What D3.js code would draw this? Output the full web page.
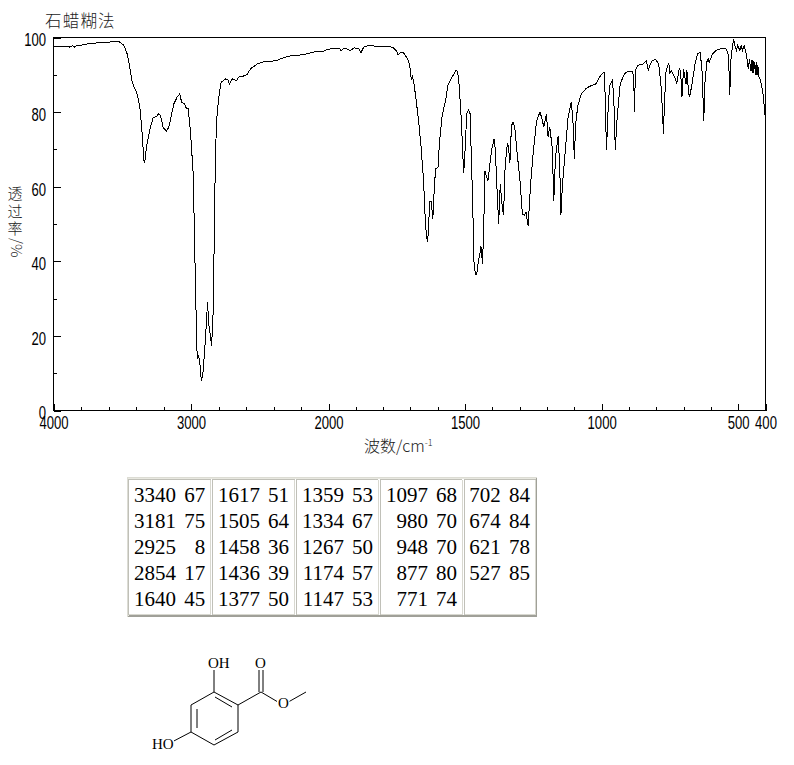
<!DOCTYPE html>
<html><head><meta charset="utf-8">
<script src="https://cdn.jsdelivr.net/npm/d3@7/dist/d3.min.js"></script>
<style>
html,body{margin:0;padding:0;background:#fff}
svg{display:block}
.tick-label{font-family:"Liberation Sans",sans-serif;font-size:19px;fill:#000}
.cjk{font-family:"Noto Sans CJK SC",sans-serif;fill:#222;font-weight:300}
.peak{font-family:"Liberation Serif",serif;font-size:21px;fill:#000}
.atom{font-family:"Liberation Serif",serif;font-size:15px;fill:#000}
</style></head><body>
<script>
const wavenumber=[3998,3985,3901,3880,3860,3845,3828,3800,3743,3658,3610,3561,3525,3488,3464,3452,3428,3392,3372,3355,3343,3336,3324,3295,3275,3251,3234,3222,3202,3178,3161,3125,3101,3081,3069,3047,3033,3021,3004,2984,2975,2967,2955,2948,2938,2924,2914,2902,2887,2880,2870,2858,2851,2841,2834,2822,2810,2798,2781,2749,2732,2720,2701,2669,2652,2628,2592,2567,2519,2470,2373,2349,2276,2179,2107,2070,2046,1999,1974,1959,1954,1944,1932,1922,1905,1889,1881,1871,1856,1828,1810,1780,1762,1752,1745,1735,1725,1707,1701,1697,1693,1689,1682,1670,1661,1652,1646,1642,1638,1634,1630,1624,1618,1613,1608,1599,1594,1584,1570,1563,1552,1540,1533,1527,1521,1513,1509,1505,1500,1494,1488,1482,1477,1472,1467,1462,1457,1451,1445,1442,1436,1432,1427,1421,1416,1409,1403,1394,1389,1384,1377,1371,1365,1359,1353,1345,1341,1336,1330,1324,1318,1309,1299,1290,1283,1277,1269,1260,1251,1238,1226,1218,1212,1202,1196,1190,1181,1175,1169,1159,1153,1149,1144,1135,1123,1111,1105,1100,1095,1087,1074,1056,1038,1020,1008,995,989,986,982,977,971,961,956,950,943,932,916,904,886,882,880,876,868,849,837,834,829,823,815,803,791,782,776,774,770,764,754,750,745,730,725,716,711,706,700,691,688,681,677,667,658,649,640,633,628,626,622,615,610,606,594,582,563,545,537,533,531,526,517,511,506,502,494,489,484,478,472,466,463,458,455,452,449,446,443,440,437,434,431,428,424,418,411,406,404];
const transmittance=[97.6,97.7,97.7,97.4,97.8,97.4,97.9,97.9,98.4,98.6,98.6,99.0,98.9,97.9,95.6,93.4,88.0,84.9,81.3,74.2,67.0,66.6,70.6,76.0,78.5,78.8,79.6,79.1,75.8,74.9,76.0,82.2,84.0,84.9,82.7,82.2,80.9,80.9,75.0,63.4,47.4,32.2,13.8,14.7,13.6,7.8,9.8,15.2,24.1,29.0,22.8,19.7,17.4,23.2,38.4,69.7,79.6,84.0,88.0,88.9,88.6,87.6,88.9,88.5,89.4,89.5,90.1,91.6,92.9,93.5,93.8,94.3,95.1,95.4,96.1,96.3,96.2,96.9,97.0,97.0,96.5,97.1,96.9,96.5,97.2,97.0,96.0,97.4,97.8,97.7,97.6,97.7,97.2,96.5,95.3,96.1,95.9,93.8,91.6,88.7,89.6,88.5,84.9,77.7,70.6,61.7,51.8,47.4,45.1,47.8,55.9,56.0,51.4,59.0,64.8,65.2,71.5,79.1,83.6,87.1,88.9,90.3,91.3,90.7,86.7,76.9,69.7,63.6,69.7,79.5,80.6,80.0,67.9,55.4,39.3,36.5,36.6,40.2,42.4,44.2,39.3,48.3,64.3,62.6,61.7,66.1,69.7,72.8,69.7,60.8,50.0,60.8,55.4,52.3,66.1,71.5,71.0,66.3,76.4,77.3,76.0,68.8,61.7,52.7,52.3,53.2,49.4,60.8,68.8,77.7,80.0,78.2,76.0,79.5,73.3,76.0,70.6,56.3,67.9,73.7,64.3,52.5,59.9,67.9,78.6,82.7,77.7,67.5,76.9,81.8,84.9,86.4,87.1,87.6,89.4,90.5,90.5,79.5,69.9,79.5,87.1,88.5,84.9,69.9,78.6,87.6,90.3,90.9,90.9,88.0,80.0,91.2,92.5,92.9,93.7,92.9,91.3,92.5,93.7,94.1,92.9,86.7,78.6,74.2,82.2,91.2,93.2,90.3,91.2,88.9,87.6,91.6,91.2,84.0,91.6,87.6,91.2,84.9,84.2,88.5,92.9,95.6,96.1,92.0,82.2,77.6,87.6,93.4,94.3,93.4,95.6,96.5,97.0,97.0,95.6,90.3,84.6,94.7,99.6,97.4,96.5,97.9,96.5,97.9,96.5,97.9,96.1,93.4,91.6,94.3,91.0,94.0,90.5,94.0,90.5,93.5,90.0,93.5,90.0,92.5,89.5,88.5,85.8,83.1,79.1];
const xMajorTicks=[4000,3000,2000,1500,1000,500,400];
const xMinorTicks=[3800,3600,3400,3200,2800,2600,2400,2200,1900,1800,1700,1600,1400,1300,1200,1100,900,800,700,600];
const yMajorTicks=[0,20,40,60,80,100];
const yMinorTicks=[10,30,50,70,90];
const peakWavenumbers=[[3340,3181,2925,2854,1640],[1617,1505,1458,1436,1377],[1359,1334,1267,1174,1147],[1097,980,948,877,771],[702,674,621,527]];
const peakValues=[[67,75,8,17,45],[51,64,36,39,50],[53,67,50,57,53],[68,70,70,80,74],[84,84,78,85]];
const titleText="石蜡糊法";
const yLabelText="透过率/%";
const xLabelText="波数/cm";

const svg=d3.select("body").append("svg").attr("width",794).attr("height",765);
const x=d3.scaleLinear().domain([4000,2000,400]).range([53.5,328.5,765.5]);
const y=d3.scaleLinear().domain([0,100]).range([410.5,37.5]);

svg.append("text").attr("class","cjk").attr("x",45).attr("y",27).attr("font-size",16.5).attr("letter-spacing",1.2).text(titleText);

const crisp=g=>g.selectAll("line,path").attr("shape-rendering","crispEdges").attr("stroke","#000");
const squeeze=0.69;
// axes
const ax=svg.append("g").attr("transform","translate(0,410.5)")
  .call(d3.axisBottom(x).tickValues(xMajorTicks).tickSize(-7).tickSizeOuter(0).tickFormat(d3.format("d")));
ax.select(".domain").remove();
ax.selectAll("text").attr("class","tick-label").attr("y",13.5).attr("dy",0).attr("dominant-baseline","middle").attr("font-family",null).attr("font-size",null).attr("transform",`scale(${squeeze},1)`);
ax.call(crisp);
const axm=svg.append("g").attr("transform","translate(0,410.5)")
  .call(d3.axisBottom(x).tickValues(xMinorTicks).tickSize(-3.5).tickSizeOuter(0).tickFormat(""));
axm.select(".domain").remove(); axm.call(crisp);
const ay=svg.append("g").attr("transform","translate(53.5,0)")
  .call(d3.axisLeft(y).tickValues(yMajorTicks).tickSize(-7).tickSizeOuter(0).tickFormat(d3.format("d")));
ay.select(".domain").remove();
ay.selectAll("text").attr("class","tick-label").attr("x",-7.5/squeeze).attr("dy","0.44em").attr("font-family",null).attr("font-size",null).attr("transform",`scale(${squeeze},1)`);
ay.call(crisp);
const aym=svg.append("g").attr("transform","translate(53.5,0)")
  .call(d3.axisLeft(y).tickValues(yMinorTicks).tickSize(-3.5).tickSizeOuter(0).tickFormat(""));
aym.select(".domain").remove(); aym.call(crisp);
svg.append("rect").attr("x",x(4000)).attr("y",y(100)).attr("width",x(400)-x(4000)).attr("height",y(0)-y(100))
  .attr("fill","none").attr("stroke","#000").attr("shape-rendering","crispEdges");

// spectrum
const line=d3.line().x(i=>x(wavenumber[i])).y(i=>y(transmittance[i]));
svg.append("path").attr("d",line(d3.range(wavenumber.length))).attr("fill","none").attr("stroke","#000").attr("stroke-width",1).attr("shape-rendering","crispEdges");

// axis titles
const xl=svg.append("text").attr("class","cjk").attr("x",364).attr("y",452).attr("font-size",16);
xl.append("tspan").text(xLabelText);
xl.append("tspan").attr("font-size",9).attr("dy",-6).text("-1");
svg.append("text").attr("class","cjk").attr("font-size",15)
  .attr("x","7.5 7.5 7.5 11 11").attr("y","199 216.5 234 238 244").attr("rotate","0 0 0 90 90").text(yLabelText);

// peak table
const cols=[[128,211,176,205.3],[212,295,260,289],[296,378.5,344,373],[380,462.5,428,457],[464,536,500.7,530]];
const frame=(x0,y0,x1,y1,tl,br)=>{
  svg.append("path").attr("d",`M${x0},${y1}V${y0}H${x1}`).attr("fill","none").attr("stroke",tl).attr("shape-rendering","crispEdges");
  svg.append("path").attr("d",`M${x1},${y0}V${y1}H${x0}`).attr("fill","none").attr("stroke",br).attr("shape-rendering","crispEdges");
};
frame(127.5,477.5,536.5,616.5,"#dcdcd4","#a0a098");
frame(128.5,478.5,535.5,615.5,"#e8e8e0","#a0a098");
const rowY=d3.scaleLinear().domain([0,4]).range([502,606]);
cols.forEach((c,k)=>{
  frame(c[0]+0.5,479.5,c[1]-0.5,614.5,"#c0c0b8","#d8d8d0");
  const g=svg.append("g");
  g.selectAll("text.n").data(peakWavenumbers[k]).join("text").attr("class","peak n").attr("text-anchor","end").attr("x",c[2]).attr("y",(d,i)=>rowY(i)).text(d=>d);
  g.selectAll("text.v").data(peakValues[k]).join("text").attr("class","peak v").attr("text-anchor","end").attr("x",c[3]).attr("y",(d,i)=>rowY(i)).text(d=>d);
});

// structure
const atoms={c1:[214,692],c2:[238,705],c3:[238,732],c4:[214,745],c5:[191,732],c6:[191,705],oh:[214,670],ec:[261,692],o2:[261,668],o1:[283,705],me:[306,692],ho:[170,743]};
const bonds=[["c1","c2"],["c2","c3"],["c3","c4"],["c4","c5"],["c5","c6"],["c6","c1"],["c1","oh"],["c2","ec"],["c5","ho"],["ec","o1"],["o1","me"]];
const mol=svg.append("g").attr("stroke","#000").attr("stroke-width",1);
mol.selectAll("line").data(bonds).join("line").attr("x1",d=>atoms[d[0]][0]).attr("y1",d=>atoms[d[0]][1]).attr("x2",d=>atoms[d[1]][0]).attr("y2",d=>atoms[d[1]][1]);
[[[215,697],[232,707]],[[215,740],[232,730]],[[197,709],[197,728]],[[259,692],[259,668]],[[263,692],[263,668]]].forEach(s=>{
  mol.append("line").attr("x1",s[0][0]).attr("y1",s[0][1]).attr("x2",s[1][0]).attr("y2",s[1][1]);
});
[["OH",208,668],["O",255,668],["O",278,708],["HO",152,749]].forEach(a=>{
  svg.append("rect").attr("x",a[1]-1).attr("y",a[2]-10).attr("width",a[0].length*10.5+2).attr("height",12).attr("fill","#fff");
  svg.append("text").attr("class","atom").attr("x",a[1]).attr("y",a[2]).text(a[0]);
});
</script></body></html>
